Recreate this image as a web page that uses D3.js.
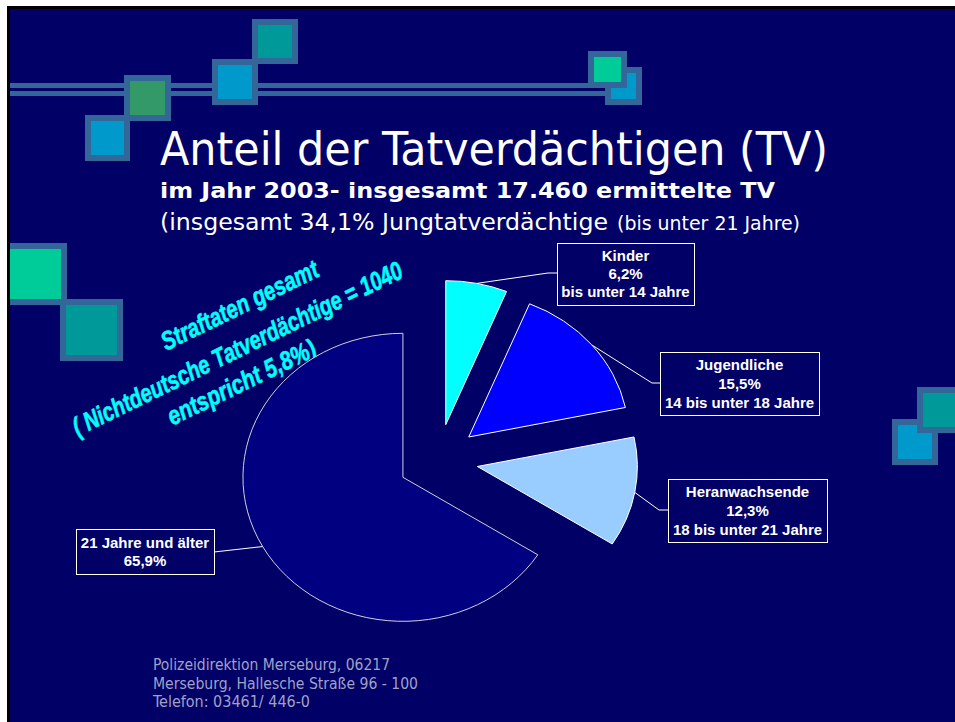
<!DOCTYPE html>
<html>
<head>
<meta charset="utf-8">
<script src="https://cdn.jsdelivr.net/npm/d3@7"></script>
<style>
  html, body { margin: 0; padding: 0; background: #fff; }
  svg { display: block; }
</style>
</head>
<body>
<div id="folie"></div>
<script>
// Anteil der Tatverdächtigen 2003

const kategorien = ["Kinder", "Jugendliche", "Heranwachsende", "21 Jahre und älter"];
const anteile = [6.2, 15.5, 12.3, 65.9];
const anteilText = ["6,2%", "15,5%", "12,3%", "65,9%"];
const altersgruppen = ["bis unter 14 Jahre", "14 bis unter 18 Jahre", "18 bis unter 21 Jahre", ""];
const farben = ["#00FFFF", "#0000FF", "#99CCFF", "#000080"];

const titel = "Anteil der Tatverdächtigen (TV)";
const untertitel = "im Jahr 2003- insgesamt 17.460 ermittelte TV";
const zeile3a = "(insgesamt 34,1% Jungtatverdächtige";
const zeile3b = "(bis unter 21 Jahre)";
const hinweis = ["Straftaten gesamt", "( Nichtdeutsche Tatverdächtige = 1040", "entspricht 5,8%)"];
const fusszeile = ["Polizeidirektion Merseburg, 06217", "Merseburg, Hallesche Straße 96 - 100", "Telefon: 03461/ 446-0"];

const width = 955;
const height = 722;
const bg = "#000066";
const rahmenFarbe = "#336699";

const svg = d3.select("#folie")
  .append("svg")
  .attr("width", width)
  .attr("height", height);

// Folie mit schwarzem Rand
svg.append("rect").attr("x", 7).attr("y", 6).attr("width", width).attr("height", height).attr("fill", "#000");
svg.append("rect").attr("x", 10).attr("y", 9).attr("width", width).attr("height", height).attr("fill", bg);

svg.append("clipPath").attr("id", "folienclip")
  .append("rect").attr("x", 10).attr("y", 9).attr("width", width).attr("height", height);

const deko = svg.append("g").attr("clip-path", "url(#folienclip)");

// doppelte Linie oben
[83, 91].forEach(y => {
  deko.append("rect").attr("x", 10).attr("y", y).attr("width", 595).attr("height", 5).attr("fill", rahmenFarbe);
});

// Quadrate
const quadrate = [
  {x: 85, y: 115, w: 45, h: 46, f: "#0099CC"},
  {x: 124, y: 75, w: 47, h: 46, f: "#339966"},
  {x: 212, y: 59, w: 46, h: 46, f: "#0099CC"},
  {x: 252, y: 19, w: 46, h: 45, f: "#009999"},
  {x: 605, y: 67, w: 37, h: 38, f: "#0099CC"},
  {x: 588, y: 51, w: 39, h: 37, f: "#00CC99"},
  {x: 4, y: 243, w: 63, h: 62, f: "#00CC99"},
  {x: 60, y: 299, w: 63, h: 62, f: "#009999"},
  {x: 892, y: 419, w: 46, h: 46, f: "#0099CC"},
  {x: 917, y: 387, w: 46, h: 46, f: "#009999"}
];
deko.selectAll("rect.quadrat")
  .data(quadrate)
  .join("rect")
  .attr("class", "quadrat")
  .attr("x", d => d.x + 3)
  .attr("y", d => d.y + 3)
  .attr("width", d => d.w - 6)
  .attr("height", d => d.h - 6)
  .attr("fill", d => d.f)
  .attr("stroke", rahmenFarbe)
  .attr("stroke-width", 6);

// Titel
const titelFont = "'DejaVu Sans Condensed', 'DejaVu Sans', sans-serif";
svg.append("text").attr("x", 160).attr("y", 165)
  .attr("font-family", titelFont).attr("font-size", 46).attr("fill", "#fff")
  .attr("textLength", 668).attr("lengthAdjust", "spacingAndGlyphs")
  .text(titel);
svg.append("text").attr("x", 160).attr("y", 198)
  .attr("font-family", titelFont).attr("font-size", 22).attr("font-weight", "bold").attr("fill", "#fff")
  .attr("textLength", 615).attr("lengthAdjust", "spacingAndGlyphs")
  .text(untertitel);
svg.append("text").attr("x", 160).attr("y", 230)
  .attr("font-family", titelFont).attr("font-size", 23).attr("fill", "#fff")
  .attr("textLength", 448).attr("lengthAdjust", "spacingAndGlyphs")
  .text(zeile3a);
svg.append("text").attr("x", 617).attr("y", 230)
  .attr("font-family", titelFont).attr("font-size", 19).attr("fill", "#fff")
  .attr("textLength", 183).attr("lengthAdjust", "spacingAndGlyphs")
  .text(zeile3b);

// schräger Hinweis
const hinweisG = svg.append("g").attr("transform", "translate(240,345) rotate(-26)");
const hinweisPos = [{u: 17, v: -27, l: 172}, {u: -4, v: 11, l: 364}, {u: -15, v: 43, l: 162}];
hinweisG.selectAll("text")
  .data(hinweis)
  .join("text")
  .attr("x", (d, i) => hinweisPos[i].u)
  .attr("y", (d, i) => hinweisPos[i].v)
  .attr("text-anchor", "middle")
  .attr("font-family", "'Liberation Sans', Arial, sans-serif")
  .attr("font-weight", "bold")
  .attr("font-style", "italic")
  .attr("font-size", 26)
  .attr("fill", "#00FFFF")
  .attr("stroke", "#00FFFF")
  .attr("stroke-width", 0.6)
  .attr("textLength", (d, i) => hinweisPos[i].l)
  .attr("lengthAdjust", "spacingAndGlyphs")
  .text(d => d);

// Kreisdiagramm (leicht elliptisch, alle Segmente herausgezogen)
const cx = 438, cy = 460, rx = 160, ry = 144, explode = 0.25;

const pie = d3.pie().sort(null).value(d => d);
const arc = d3.arc().innerRadius(0).outerRadius(1);
const segmente = pie(anteile);

const kreisG = svg.append("g")
  .attr("transform", `translate(${cx},${cy}) scale(${rx},${ry})`);

kreisG.selectAll("path")
  .data(segmente)
  .join("path")
  .attr("transform", d => {
    const m = (d.startAngle + d.endAngle) / 2;
    return `translate(${explode * Math.sin(m)},${-explode * Math.cos(m)})`;
  })
  .attr("d", arc)
  .attr("fill", (d, i) => farben[i])
  .attr("stroke", (d, i) => i === 3 ? "#d0d0e0" : "#ffffff")
  .attr("stroke-width", 1)
  .attr("vector-effect", "non-scaling-stroke");

// Beschriftungen
const boxen = [
  {x: 557, y: 243, w: 137, h: 62, knick: [548, 273], ende: [557, 273], zeilen: [261, 279, 297]},
  {x: 660, y: 352, w: 159, h: 63, knick: [652, 383], ende: [660, 383], zeilen: [370, 389, 408]},
  {x: 668, y: 479, w: 159, h: 63, knick: [659, 510], ende: [668, 510], zeilen: [497, 516, 535]},
  {x: 76, y: 529, w: 138, h: 45, knick: [214, 552], ende: [214, 552], zeilen: [548, 566]}
];

const labelG = svg.append("g");
segmente.forEach((s, i) => {
  const b = boxen[i];
  const m = (s.startAngle + s.endAngle) / 2;
  const px = cx + (1 + explode) * rx * Math.sin(m);
  const py = cy - (1 + explode) * ry * Math.cos(m);

  labelG.append("polyline")
    .attr("points", [[px, py], b.knick, b.ende].map(p => p.join(",")).join(" "))
    .attr("fill", "none")
    .attr("stroke", "#fff")
    .attr("stroke-width", 1);

  labelG.append("rect")
    .attr("x", b.x + 0.5).attr("y", b.y + 0.5)
    .attr("width", b.w).attr("height", b.h)
    .attr("fill", bg)
    .attr("stroke", "#fff")
    .attr("stroke-width", 1);

  const zeilen = [kategorien[i], anteilText[i], altersgruppen[i]].filter(t => t !== "");
  zeilen.forEach((t, j) => {
    labelG.append("text")
      .attr("x", b.x + b.w / 2)
      .attr("y", b.zeilen[j])
      .attr("text-anchor", "middle")
      .attr("font-family", "'Liberation Sans', Arial, sans-serif")
      .attr("font-weight", "bold")
      .attr("font-size", 15)
      .attr("fill", "#fff")
      .text(t);
  });
});

// Fußzeile
const fussLaengen = [237, 265, 157];
svg.selectAll("text.fuss")
  .data(fusszeile)
  .join("text")
  .attr("class", "fuss")
  .attr("x", 153)
  .attr("y", (d, i) => 670 + i * 18.5)
  .attr("font-family", titelFont)
  .attr("font-size", 15)
  .attr("fill", "#a0a0c8")
  .attr("textLength", (d, i) => fussLaengen[i])
  .attr("lengthAdjust", "spacingAndGlyphs")
  .text(d => d);
</script>
</body>
</html>
